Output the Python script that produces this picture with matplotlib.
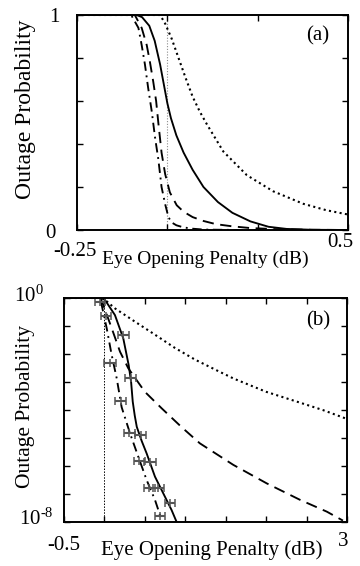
import matplotlib
matplotlib.use('Agg')
import matplotlib.pyplot as plt
import numpy as np

plt.rcParams['font.family'] = ['Liberation Serif', 'DejaVu Serif']
plt.rcParams['mathtext.fontset'] = 'custom'
plt.rcParams['mathtext.rm'] = 'Liberation Serif'
plt.rcParams['mathtext.it'] = 'Liberation Serif:italic'

# ---------------- Panel (a): linear outage probability ----------------
a_solid_x = [-0.25, -0.085, -0.07, -0.05, -0.035, -0.02, -0.01, 0.0, 0.01, 0.025, 0.045, 0.07, 0.1, 0.14, 0.18, 0.23, 0.28, 0.33, 0.4, 0.5]
a_solid_y = [1, 1, 0.99, 0.95, 0.88, 0.77, 0.68, 0.59, 0.52, 0.44, 0.36, 0.28, 0.2, 0.13, 0.08, 0.04, 0.015, 0.005, 0.001, 0.0]

a_dotted_x = [-0.25, -0.02, -0.006, 0.012, 0.031, 0.05, 0.07, 0.09, 0.11, 0.155, 0.22, 0.293, 0.376, 0.44, 0.5]
a_dotted_y = [1, 1, 0.96, 0.89, 0.80, 0.71, 0.62, 0.55, 0.49, 0.365, 0.255, 0.18, 0.122, 0.092, 0.072]

a_dashed_x = [-0.25, -0.09, -0.071, -0.057, -0.048, -0.039, -0.031, -0.025, -0.016, -0.006, 0.007, 0.026, 0.045, 0.07, 0.1, 0.135, 0.18, 0.23, 0.3, 0.4, 0.5]
a_dashed_y = [1, 1, 0.94, 0.86, 0.78, 0.69, 0.6, 0.5, 0.36, 0.26, 0.175, 0.115, 0.085, 0.06, 0.042, 0.027, 0.017, 0.009, 0.004, 0.001, 0.0]

a_dashdot_x = [-0.25, -0.1, -0.08, -0.071, -0.062, -0.053, -0.043, -0.034, -0.025, -0.016, -0.006, 0.003, 0.012, 0.025, 0.045, 0.07, 0.1, 0.2, 0.5]
a_dashdot_y = [1, 1, 0.94, 0.86, 0.77, 0.66, 0.55, 0.43, 0.33, 0.2, 0.12, 0.06, 0.035, 0.022, 0.012, 0.006, 0.002, 0.0, 0.0]

# ---------------- Panel (b): log10 of outage probability ----------------
b_dotted_x = [-0.5, -0.04, 0.0, 0.13, 0.38, 0.63, 0.87, 1.12, 1.4, 1.6, 2.0, 2.4, 2.7, 3.0]
b_dotted_log = [0, 0, -0.05, -0.37, -0.85, -1.32, -1.78, -2.2, -2.6, -2.88, -3.35, -3.72, -4.0, -4.32]

b_dashed_x = [-0.5, -0.05, -0.014, 0.09, 0.193, 0.295, 0.5, 0.708, 0.95, 1.18, 1.594, 2.007, 2.42, 2.75, 2.95]
b_dashed_log = [0, 0, -0.25, -1.08, -1.92, -2.51, -3.35, -3.94, -4.6, -5.19, -5.96, -6.62, -7.21, -7.63, -7.95]

b_solid_x = [-0.5, -0.03, 0.007, 0.13, 0.233, 0.3, 0.33, 0.35, 0.375, 0.4, 0.46, 0.522, 0.625, 0.749, 0.83, 0.893]
b_solid_log = [0, 0, -0.07, -0.61, -1.44, -2.4, -3.0, -3.7, -4.2, -4.6, -5.1, -5.55, -6.38, -7.1, -7.57, -8.0]

b_dashdot_x = [-0.5, -0.04, -0.034, 0.028, 0.09, 0.152, 0.213, 0.316, 0.419, 0.522, 0.625, 0.708]
b_dashdot_log = [0, 0, -0.25, -1.08, -2.04, -2.87, -3.9, -4.83, -5.67, -6.5, -7.21, -7.93]

# simulation points with horizontal error bars
b_err1_x = [-0.055, 0.069, 0.2, 0.308, 0.431, 0.555, 0.687]
b_err1_log = [-0.15, -2.33, -3.69, -4.83, -5.82, -6.8, -7.8]
b_err1_xerr = [0.065, 0.07, 0.065, 0.07, 0.07, 0.07, 0.065]
b_err2_x = [0.02, 0.233, 0.325, 0.448, 0.564, 0.666, 0.811]
b_err2_log = [-0.63, -1.32, -2.87, -4.89, -5.85, -6.8, -7.33]
b_err2_xerr = [0.065, 0.065, 0.07, 0.07, 0.07, 0.07, 0.065]

W, H = 360, 566
fig = plt.figure(figsize=(W / 100, H / 100), dpi=100)

def ax_rect(l, t, r, b):
    return [l / W, 1 - b / H, (r - l) / W, (b - t) / H]

def ftext(px, py, s, **kw):
    fig.text(px / W, 1 - py / H, s, ha='center', va='center', **kw)

ax1 = fig.add_axes(ax_rect(77, 15, 348, 230))
ax2 = fig.add_axes(ax_rect(64, 298, 347, 522))

LW = 1.35
sty_dot = (0, (1, 1.6))
sty_dash = (0, (6, 3.5))
sty_dd = (0, (5, 2.5, 1, 2.5))

# Panel (a)
ax1.axvline(0, color='0.55', lw=0.8, ls=(0, (1, 1.5)), zorder=1)
ax1.plot(a_dotted_x, a_dotted_y, color='black', lw=1.5, ls=sty_dot)
ax1.plot(a_solid_x, a_solid_y, color='black', lw=LW, ls='-')
ax1.plot(a_dashed_x, a_dashed_y, color='black', lw=LW, ls=sty_dash)
ax1.plot(a_dashdot_x, a_dashdot_y, color='black', lw=LW, ls=sty_dd)
ax1.set_xlim(-0.25, 0.5)
ax1.set_ylim(0, 1)
ax1.set_xticks([-0.25, 0, 0.25, 0.5])
ax1.set_yticks([0, 0.2, 0.4, 0.6, 0.8, 1.0])

# Panel (b)
ax2.set_yscale('log')
ax2.axvline(0, color='black', lw=0.7, ls=(0, (1.5, 1.5)), zorder=1)
ax2.plot(b_dotted_x, 10.0 ** np.array(b_dotted_log), color='black', lw=1.5, ls=sty_dot)
ax2.plot(b_dashed_x, 10.0 ** np.array(b_dashed_log), color='black', lw=LW, ls=sty_dash)
ax2.plot(b_solid_x, 10.0 ** np.array(b_solid_log), color='black', lw=LW, ls='-')
ax2.plot(b_dashdot_x, 10.0 ** np.array(b_dashdot_log), color='black', lw=LW, ls=sty_dd)
for ex, ey, ee in [(b_err1_x, b_err1_log, b_err1_xerr), (b_err2_x, b_err2_log, b_err2_xerr)]:
    ax2.errorbar(ex, 10.0 ** np.array(ey), xerr=ee, fmt='|', color='#555555',
                 ecolor='#555555', elinewidth=1.5, capsize=3, capthick=1.1,
                 markersize=6, mew=1.1)
ax2.set_xlim(-0.5, 3)
ax2.set_ylim(1e-8, 1)
ax2.set_xticks(np.arange(-0.5, 3.01, 0.5))
ax2.set_yticks([10.0 ** k for k in range(-8, 1)])
ax2.minorticks_off()

for ax in (ax1, ax2):
    for s in ax.spines.values():
        s.set_linewidth(1.4)
    ax.tick_params(which='both', direction='in', top=True, right=True,
                   length=4.5, width=1.0, labelbottom=False, labelleft=False)

FS = 15
# Panel (a) texts
ftext(54, 17, '1', fontsize=FS)
ftext(50, 233, '0', fontsize=FS)
ftext(75, 251, '-0.25', fontsize=FS)
ftext(340, 243, '0.5', fontsize=FS)
ftext(205, 259, 'Eye Opening Penalty (dB)', fontsize=14)
ftext(26, 109, 'Outage Probability', fontsize=17, rotation=90)
ftext(318, 36, '(a)', fontsize=FS)

# Panel (b) texts
ftext(29, 296, r'$10^{0}$', fontsize=FS)
ftext(36, 519, r'$10^{\text{-}8}$', fontsize=FS)
ftext(64, 545, '-0.5', fontsize=FS)
ftext(343, 541, '3', fontsize=FS)
ftext(212, 550, 'Eye Opening Penalty (dB)', fontsize=15)
ftext(26, 407, 'Outage Probability', fontsize=15.5, rotation=90)
ftext(318, 321, '(b)', fontsize=FS)

fig.savefig('out.png', dpi=100)
